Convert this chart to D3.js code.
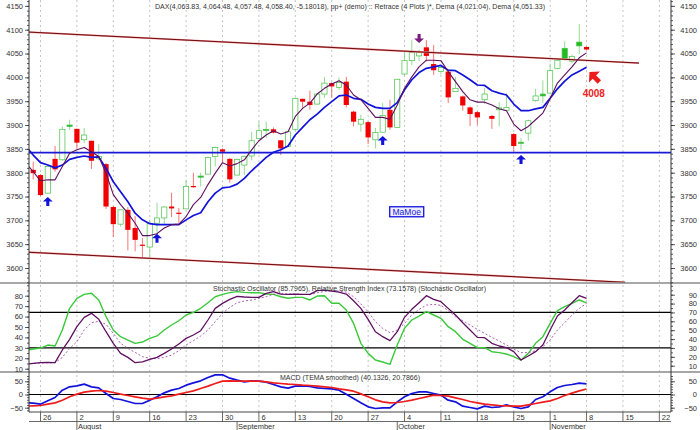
<!DOCTYPE html>
<html>
<head>
<meta charset="utf-8">
<style>
  html, body { margin: 0; padding: 0; background: #fff; }
  svg { display: block; }
  text { font-family: "Liberation Sans", Arial, sans-serif; fill: #333; }
  .axis path { display: none; }
  .axis line { stroke: #333; stroke-width: 0.8; }
  .axis text { font-size: 7.5px; fill: #333; }
</style>
<script src="https://cdnjs.cloudflare.com/ajax/libs/d3/7.8.5/d3.min.js"></script>
</head>
<body>
<svg id="chart" width="700" height="430"></svg>
<script>
// candles start on day -1, day 0 is the Monday 26 July, one step per trading day
const opens = [3806,3795,3757,3829,3827,3897,3892,3869,3867,3829,3818,3728,3692,3722,3684,3649,3644,3694,3705,3729,3716,3724,3772,3791,3797,3834,3849,3829,3795,3816,3835,3872,3889,3891,3868,3855,3891,3955,3949,3944,3965,3988,3979,3991,3928,3902,3906,3869,3885,3932,3895,4007,4035,4045,4063,4028,4012,4012,3970,3960,3937,3927,3953,3919,3932,3931,3881,3862,3883,3951,3961,3967,4019,4040,4034,4066,4063.83];
const closes = [3799,3753,3813,3807,3891,3900,3863,3879,3825,3834,3729,3692,3722,3680,3659,3647,3694,3705,3728,3725,3714,3771,3770,3793,3832,3853,3844,3786,3828,3834,3867,3888,3891,3884,3851,3886,3956,3949,3942,3965,3988,3981,3989,3942,3907,3912,3874,3884,3920,3895,3996,4035,4052,4052,4045,4015,4021,3958,3977,3941,3923,3916,3965,3913,3936,3937,3856,3864,3909,3961,3965,4014,4036,4061,4044,4074,4058.40];
const highs = [3823,3797,3815,3856,3897,3911,3892,3894,3867,3860,3820,3730,3722,3728,3709,3663,3701,3737,3730,3758,3726,3784,3800,3800,3834,3855,3851,3831,3830,3836,3886,3907,3907,3895,3868,3888,3958,3955,3972,3967,4001,3990,4000,4001,3930,3921,3908,3894,3946,3953,3996,4054,4078,4058,4078,4068,4025,4014,4001,3962,3939,3929,3978,3921,3948,3967,3883,3873,3911,3976,3994,4029,4039,4076,4048,4112,4064.48];
const lows = [3786,3751,3757,3802,3825,3890,3850,3862,3808,3826,3724,3665,3687,3637,3635,3621,3621,3672,3692,3707,3695,3724,3768,3771,3797,3813,3821,3779,3795,3795,3826,3872,3873,3882,3837,3853,3889,3936,3932,3942,3957,3957,3974,3937,3897,3886,3860,3851,3885,3890,3895,4005,4026,4034,4033,4005,4006,3946,3970,3930,3898,3900,3944,3892,3897,3929,3844,3848,3867,3949,3946,3965,4017,4036,4029,4049,4057.48];
const filledUpDays = [4, 22, 31, 66, 69, 72, 74];

// line series start on day -2
const demaSlow = [3855,3837,3821,3816,3810,3816,3828,3832,3835,3832,3833,3809,3781,3760,3739,3715,3701,3693,3691,3691,3691,3691,3701,3710,3716,3739,3757,3768,3770,3776,3788,3804,3818,3832,3843,3848,3856,3879,3895,3911,3923,3937,3949,3961,3963,3956,3954,3944,3937,3935,3935,3947,3974,3995,4010,4019,4022,4025,4015,4014,4005,3995,3984,3983,3972,3967,3963,3944,3930,3930,3934,3937,3956,3976,3992,4005,4013,4021.04];
const demaFast = [3820,3802,3783,3785,3785,3813,3841,3848,3853,3844,3834,3799,3754,3733,3715,3694,3668,3668,3672,3684,3691,3692,3708,3733,3748,3775,3799,3821,3814,3819,3827,3848,3867,3879,3888,3881,3886,3918,3935,3946,3965,3977,3986,3993,3984,3963,3953,3935,3916,3916,3912,3942,3977,4001,4022,4036,4036,4035,4012,3991,3970,3953,3948,3948,3942,3934,3930,3902,3888,3897,3911,3925,3955,3988,4005,4022,4041,4051.33];

const rsiLine = [27.5,28.9,29.8,32.7,31.8,47.1,67.9,77.5,81.3,82.3,75.9,59.9,47.1,40.7,37.5,34.3,35.6,39.1,41.4,47.1,51.9,56,61.5,64,67.9,73.3,79,81.3,82.9,83.9,83.2,82.9,82.9,81.6,81.3,79,77.5,78.4,78.4,75.9,79.7,80,72.7,72.7,66.3,53.5,34.3,24.7,18.3,16.4,14.2,32.7,48.7,56.7,60.5,64.7,61.5,58.3,50.3,45.5,38.2,34.3,30.2,30.2,26.3,25.4,24.1,21.5,18.3,24.7,34.3,40.7,53.5,65.6,69.5,72.7,75.9,73.16];
const stochK = [11.5,12.6,13.4,13.8,13.4,27.7,39.7,54,64.5,69,62.2,48.3,35.2,23.9,19.4,13.4,14.2,17.2,19.4,23.9,28.8,34.4,40.8,44.6,49.4,61.5,74.6,80.2,84.7,88.1,87.4,87,87,91.5,93.4,90.7,90.4,90.7,90.4,90.4,94.5,95.2,94.1,93,90.7,83.2,74.6,62.2,48.3,42.7,38.2,48.3,64.5,73.5,81,88.9,84.7,82.1,74.6,67.1,58.4,50.2,41.9,41.6,35.2,32.2,30.3,25.8,16.4,20.9,25.8,33.3,50.2,66,72.7,81,88.9,85.8];
const stochD = [12.3,12.6,13,13.4,13.4,19.4,29.5,37,50.2,58.4,60,56.6,46.4,35.2,29.5,25,20.2,18.3,17.9,19.4,22,26.9,33.3,38.2,43.4,50.2,59.6,69,75.7,81,82.9,84,85.9,87.7,90.4,91.5,90.7,90.7,90.4,90,92.2,93.7,94.5,94.1,93,87.7,79.5,70.8,59.6,52.1,47.2,50.2,57.7,67.1,73.5,78.3,79.1,78,72,65.2,60.7,55.8,50.9,46.4,41.9,37.8,33.3,28.8,24.7,24.7,26.9,31.4,38.9,50.2,58.4,67.1,74.6,80.2];

const macdLine = [-31,-32.8,-36.6,-24,-11.4,16.4,29,32.8,39.2,29,25.3,3.8,-15.2,-18.9,-26.5,-34.1,-34.1,-21.5,-8.8,6.3,16.4,22.7,35.4,44.2,51.8,64.4,74.5,74.5,61.9,54.3,48,51.8,50.5,46.7,37.9,29,24,31.6,32.8,30.3,25.3,22.7,21.5,16.4,1.3,-15.2,-31.6,-46.7,-53,-50.5,-50.5,-27.8,-8.8,3.8,10.1,10.1,3.8,-2.5,-21.5,-27.8,-44.2,-49.3,-54.3,-44.2,-49.3,-46.7,-39.2,-46.7,-53,-46.7,-18.9,-8.8,10.1,26.5,34.1,37.9,42.9,40.13];
const macdSignal = [-44,-42.9,-41.7,-36.6,-31.6,-21.5,-8.8,1.3,8.8,12.6,15.2,12.6,7.6,1.3,-3.8,-8.8,-13.9,-17.7,-13.9,-8.8,-5.1,1.3,7.6,13.9,22.7,31.6,41.7,50.5,51.8,50.5,50.5,50.5,50.5,48,44.2,41.7,39.2,37.9,35.4,34.1,31.6,29,26.5,21.5,17.7,12.6,2.5,-8.8,-20.2,-27.8,-31.6,-30.3,-26.5,-21.5,-15.2,-8.8,-2.5,-3.8,-6.3,-12.6,-18.9,-26.5,-31.6,-36.6,-39.2,-41.7,-42.9,-44.2,-44.2,-39.2,-34.1,-29,-24,-15.2,-3.8,5.1,13.9,20.79];

const weekDays = [0,5,10,15,20,25,30,35,40,45,50,55,60,65,70,75,80,85];
const weekLabels = ["26","2","9","16","23","30","6","13","20","27","4","11","18","25","1","8","15","22"];
const monthDays = [5, 27, 49, 70];
const monthLabels = ["August","September","October","November"];

const upperTrendDays = [-1.58, 82.2], upperTrendPrices = [4095, 4030];
const lowerTrendDays = [-1.58, 80.3], lowerTrendPrices = [3633, 3570];
const supportPrice = 3842;
const upArrowDays = [1, 16, 47, 66], upArrowPrices = [3749, 3672, 3877, 3837];
const downArrowDay = 52, downArrowPrice = 4072;

const topTitle = "DAX(4,063.83, 4,064.48, 4,057.48, 4,058.40, -5.18018), pp+ (demo) :: Retrace (4 Plots )*, Dema (4,021.04), Dema (4,051.33)";
const oscTitle = "Stochastic Oscillator (85.7965), Relative Strength Index (73.1578) (Stochastic Oscillator)";
const macdTitle = "MACD (TEMA smoothed) (40.1326, 20.7866)";

const left = 29, right = 671, panelTop = 0, mainBottom = 283, oscBottom = 372, macdBottom = 412;

const x = d3.scaleLinear().domain([-1.58, 86.6]).range([left, right]);
const yPrice = d3.scaleLinear().domain([3600, 4100]).range([268, 29.7]);
const yRsi = d3.scaleLinear().domain([10, 80]).range([368.7, 295.7]);
const yStoch = d3.scaleLinear().domain([10, 90]).range([365.7, 294.7]);
const yMacd = d3.scaleLinear().domain([-50, 50]).range([407.7, 381.3]);

const svg = d3.select('#chart');

svg.append('defs').append('clipPath').attr('id', 'plot')
  .append('rect').attr('x', left).attr('y', 0).attr('width', right - left).attr('height', macdBottom);

// weekly grid
svg.append('g').selectAll('line').data(weekDays).enter().append('line')
  .attr('x1', d => x(d)).attr('x2', d => x(d))
  .attr('y1', panelTop).attr('y2', macdBottom)
  .attr('stroke', '#b5b5b5').attr('stroke-width', 0.8).attr('stroke-dasharray', '2,3');

// candles
const days = opens.map((d, i) => i - 1);
const candles = svg.append('g').attr('clip-path', 'url(#plot)');
const isUp = i => closes[i] >= opens[i];
const candleColor = i => isUp(i) ? '#45c045' : '#f00000';

candles.selectAll('line').data(days).enter().append('line')
  .attr('x1', d => x(d)).attr('x2', d => x(d))
  .attr('y1', (d, i) => yPrice(highs[i])).attr('y2', (d, i) => yPrice(lows[i]))
  .attr('stroke', (d, i) => isUp(i) ? '#7ad27a' : '#f45050').attr('stroke-width', 0.8);

candles.selectAll('rect').data(days).enter().append('rect')
  .attr('x', d => x(d) - 2.6).attr('width', 5.2)
  .attr('y', (d, i) => yPrice(Math.max(opens[i], closes[i])))
  .attr('height', (d, i) => Math.max(1.2, Math.abs(yPrice(opens[i]) - yPrice(closes[i]))))
  .attr('fill', (d, i) => {
    if (!isUp(i)) return '#f00000';
    return filledUpDays.includes(d) ? '#22bb22' : '#fff';
  })
  .attr('stroke', (d, i) => candleColor(i))
  .attr('stroke-width', (d, i) => isUp(i) ? 0.7 : 0);

function drawLine(values, yScale, color, width, dash) {
  const line = d3.line().x((d, i) => x(i - 2)).y(d => yScale(d));
  svg.append('path').datum(values)
    .attr('clip-path', 'url(#plot)')
    .attr('d', line)
    .attr('fill', 'none')
    .attr('stroke', color).attr('stroke-width', width)
    .attr('stroke-linejoin', 'round')
    .attr('stroke-dasharray', dash || null);
}

function drawSegment(daysPair, valuesPair, yScale, color, width) {
  svg.append('line')
    .attr('x1', x(daysPair[0])).attr('x2', x(daysPair[1]))
    .attr('y1', yScale(valuesPair[0])).attr('y2', yScale(valuesPair[1]))
    .attr('stroke', color).attr('stroke-width', width);
}

// main panel lines
drawSegment(upperTrendDays, upperTrendPrices, yPrice, '#ee9090', 1.8);
drawSegment(upperTrendDays, upperTrendPrices, yPrice, '#6e0a0e', 1);
drawSegment(lowerTrendDays, lowerTrendPrices, yPrice, '#ee9090', 1.8);
drawSegment(lowerTrendDays, lowerTrendPrices, yPrice, '#6e0a0e', 1);
svg.append('line').attr('x1', left).attr('x2', right)
  .attr('y1', yPrice(supportPrice)).attr('y2', yPrice(supportPrice))
  .attr('stroke', '#1a1ad6').attr('stroke-width', 1.6);
drawLine(demaSlow, yPrice, '#1212dc', 1.7);
drawLine(demaFast, yPrice, '#5f1060', 1.1);

// oscillator panel
[30, 70].forEach(v => {
  svg.append('line').attr('x1', left).attr('x2', right)
    .attr('y1', yStoch(v)).attr('y2', yStoch(v))
    .attr('stroke', '#000').attr('stroke-width', 1.3);
});
drawLine(rsiLine, yRsi, '#38c838', 1.4);
drawLine(stochD, yStoch, '#a050a8', 0.9, '2,2');
drawLine(stochK, yStoch, '#5f1060', 1.3);

// macd panel
svg.append('line').attr('x1', left).attr('x2', right)
  .attr('y1', yMacd(0)).attr('y2', yMacd(0))
  .attr('stroke', '#000').attr('stroke-width', 1.2);
drawLine(macdLine, yMacd, '#1212dc', 1.7);
drawLine(macdSignal, yMacd, '#ee1c1c', 1.7);

// panel separators
[mainBottom, oscBottom].forEach(y => {
  svg.append('line').attr('x1', 0).attr('x2', 700).attr('y1', y).attr('y2', y)
    .attr('stroke', '#8a8a8a').attr('stroke-width', 1.3);
});
svg.append('line').attr('x1', left).attr('x2', right).attr('y1', macdBottom).attr('y2', macdBottom)
  .attr('stroke', '#444').attr('stroke-width', 1);
svg.append('line').attr('x1', left).attr('x2', right).attr('y1', 421.5).attr('y2', 421.5)
  .attr('stroke', '#444').attr('stroke-width', 0.8);
[left, right].forEach(px => {
  svg.append('line').attr('x1', px).attr('x2', px).attr('y1', 0).attr('y2', macdBottom)
    .attr('stroke', '#333').attr('stroke-width', 1);
});

// value axes, long ticks with labels plus short minor ticks
function drawAxis(scale, side, major, minor) {
  const maker = side === 'left' ? d3.axisLeft : d3.axisRight;
  const pos = side === 'left' ? left : right;
  svg.append('g').attr('class', 'axis').attr('transform', `translate(${pos},0)`)
    .call(maker(scale).tickValues(minor).tickSize(2).tickFormat(''));
  const majorAxis = svg.append('g').attr('class', 'axis').attr('transform', `translate(${pos},0)`)
    .call(maker(scale).tickValues(major).tickSize(4).tickPadding(2).tickFormat(d3.format('d')));
  if (side === 'right') {
    // labels on the right hug the window edge
    majorAxis.selectAll('text').attr('text-anchor', 'end').attr('x', 26);
  }
}

drawAxis(yPrice, 'left', d3.range(3600, 4151, 50), d3.range(3570, 4161, 10));
drawAxis(yPrice, 'right', d3.range(3600, 4151, 50), d3.range(3570, 4161, 10));
drawAxis(yRsi, 'left', d3.range(10, 81, 10), d3.range(10, 91, 5));
drawAxis(yStoch, 'right', d3.range(10, 91, 10), d3.range(10, 101, 5));
drawAxis(yMacd, 'left', [-50, 0, 50], d3.range(-60, 71, 10));
drawAxis(yMacd, 'right', [-50, 0, 50], d3.range(-60, 71, 10));

// date axis
svg.append('g').selectAll('line').data(weekDays).enter().append('line')
  .attr('x1', d => x(d)).attr('x2', d => x(d))
  .attr('y1', macdBottom).attr('y2', 421.5)
  .attr('stroke', '#444').attr('stroke-width', 0.8);
svg.append('g').selectAll('text').data(weekLabels).enter().append('text')
  .attr('x', (d, i) => x(weekDays[i]) + 2.5)
  .attr('y', 419.5)
  .attr('font-size', 7.5)
  .text(d => d);
svg.append('g').selectAll('line').data(monthDays).enter().append('line')
  .attr('x1', d => x(d)).attr('x2', d => x(d))
  .attr('y1', 421.5).attr('y2', 430)
  .attr('stroke', '#444').attr('stroke-width', 0.8);
svg.append('g').selectAll('text').data(monthLabels).enter().append('text')
  .attr('x', (d, i) => x(monthDays[i]) + 1)
  .attr('y', 428.5)
  .attr('font-size', 7.5)
  .text(d => d);

// titles
function drawTitle(label, start, end, y) {
  svg.append('text').attr('x', start).attr('y', y)
    .attr('font-size', 7)
    .attr('textLength', end - start)
    .attr('lengthAdjust', 'spacing')
    .attr('fill', '#444')
    .text(label);
}
drawTitle(topTitle, 155, 545, 8.5);
drawTitle(oscTitle, 213, 486, 291);
drawTitle(macdTitle, 280, 420, 379.5);

// arrows, tip at the anchor point
function drawArrow(px, py, color, size, rotation) {
  const s = size;
  const shape = `M0,0 L${s * 0.55},${s * 0.5} L${s * 0.17},${s * 0.5} L${s * 0.17},${s} L${-s * 0.17},${s} L${-s * 0.17},${s * 0.5} L${-s * 0.55},${s * 0.5} Z`;
  svg.append('path').attr('d', shape)
    .attr('transform', `translate(${px},${py}) rotate(${rotation})`)
    .attr('fill', color);
}
upArrowDays.forEach((d, i) => drawArrow(x(d), yPrice(upArrowPrices[i]), '#1212dc', 9, 0));
drawArrow(x(downArrowDay), yPrice(downArrowPrice), '#7a1a7a', 9, 180);
drawArrow(x(75.4), yPrice(4011), '#ee1c1c', 14, -45);

svg.append('text').attr('x', x(76)).attr('y', yPrice(3958))
  .attr('text-anchor', 'middle')
  .attr('font-size', 10).attr('font-weight', 'bold')
  .style('fill', '#ee2222')
  .text('4008');

// label box
const boxLabel = svg.append('g').attr('transform', `translate(${x(50.3)},${yPrice(3718)})`);
boxLabel.append('rect').attr('x', -17).attr('y', -5).attr('width', 34).attr('height', 10)
  .attr('fill', '#eeeeff').attr('stroke', '#1212dc').attr('stroke-width', 1.3);
boxLabel.append('text').attr('x', 0).attr('y', 3)
  .attr('text-anchor', 'middle')
  .attr('font-size', 8.5)
  .style('fill', '#1a1ad6')
  .text('MaMoe');
</script>
</body>
</html>
